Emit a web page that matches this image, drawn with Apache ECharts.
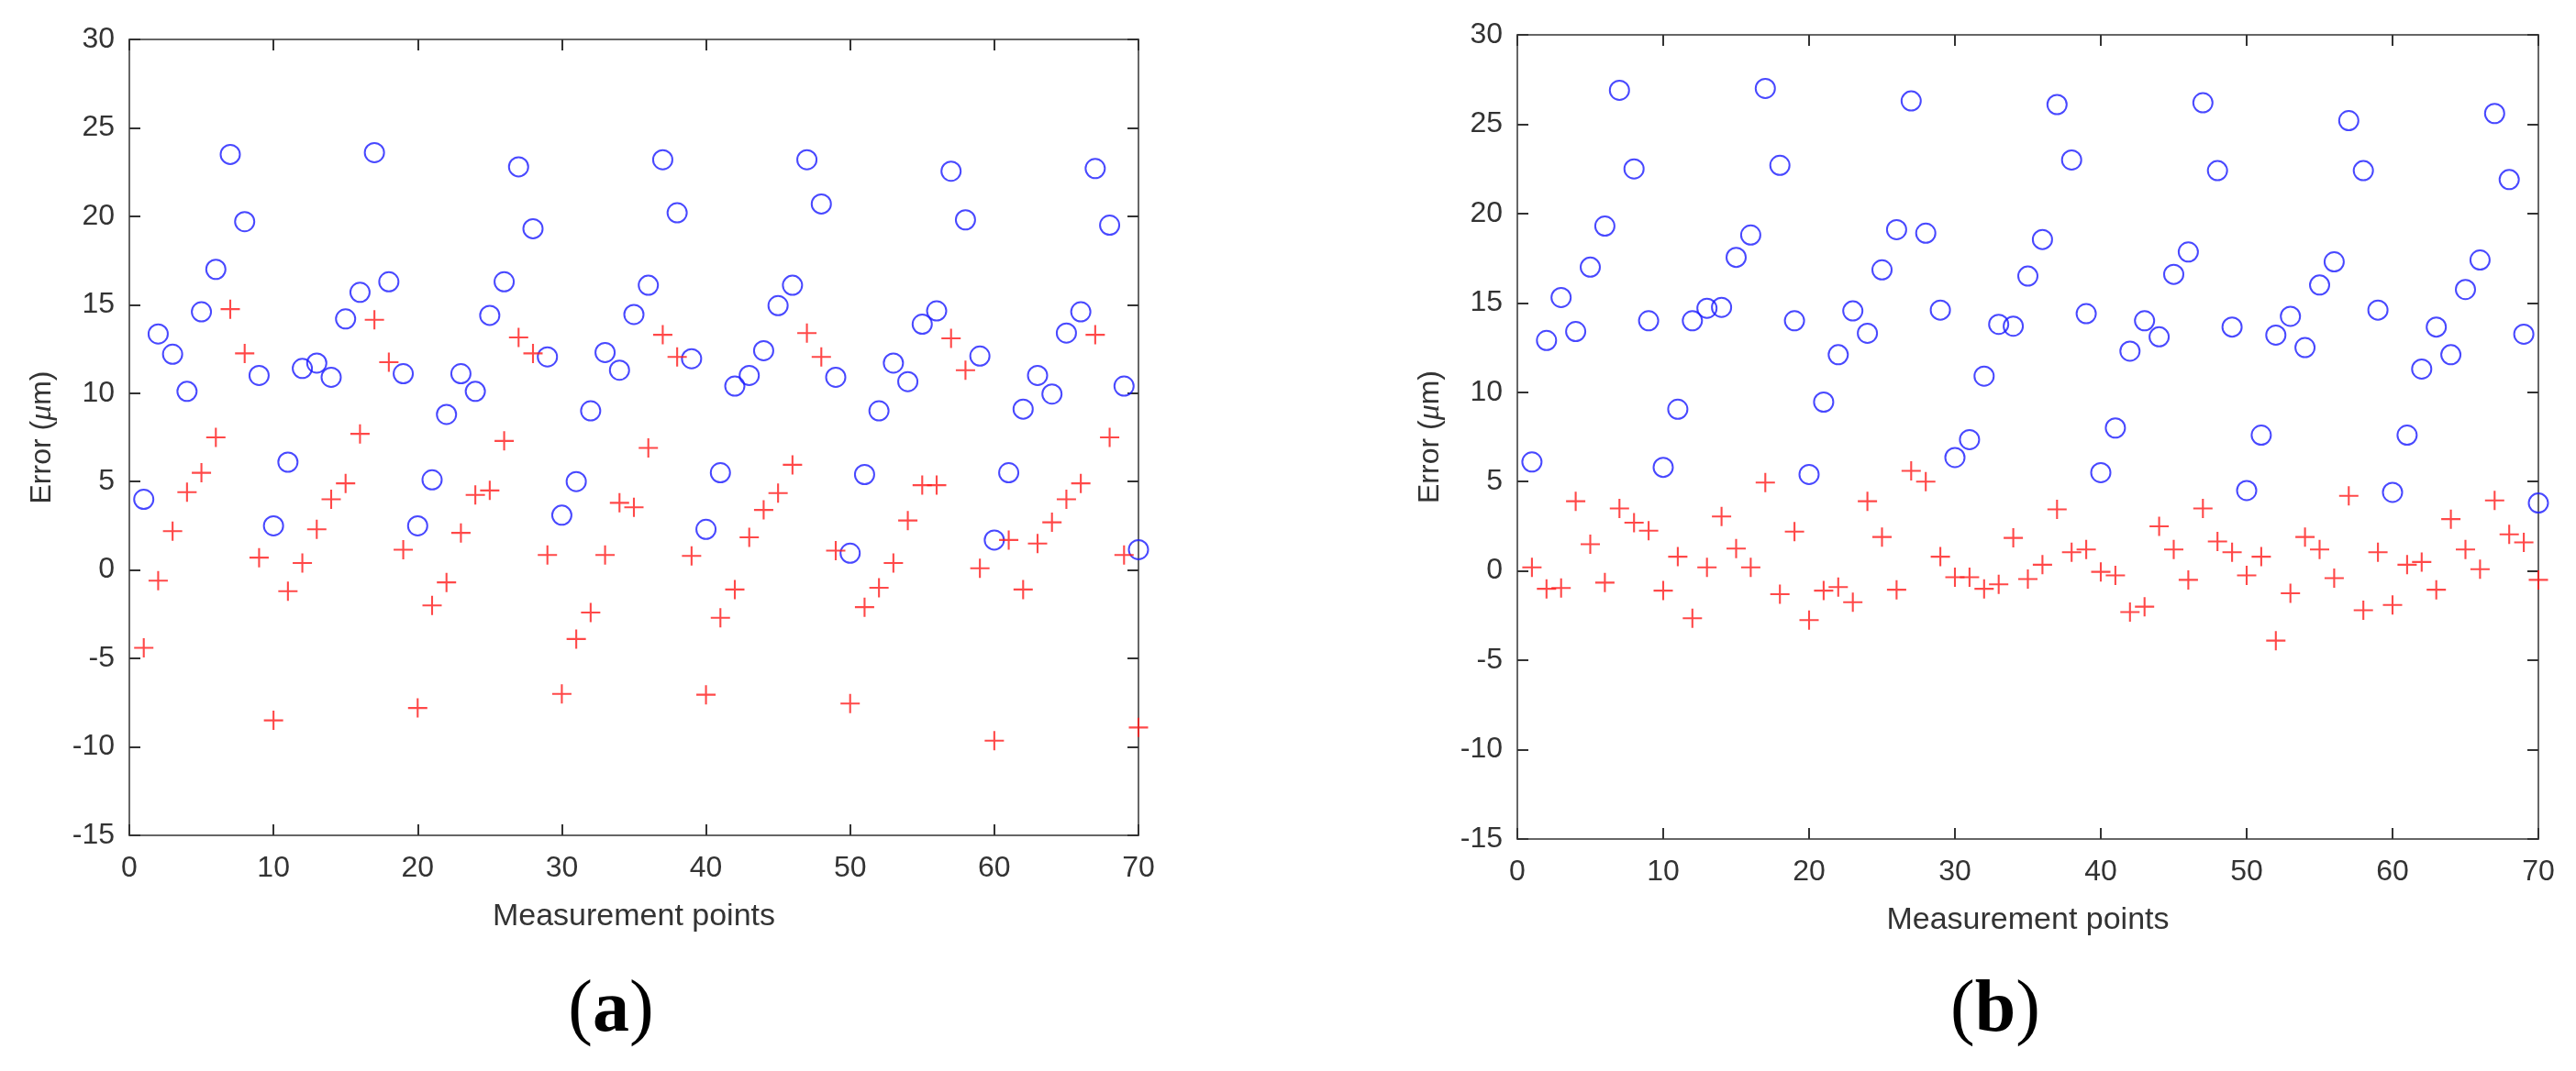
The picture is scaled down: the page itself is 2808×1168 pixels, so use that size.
<!DOCTYPE html>
<html>
<head>
<meta charset="utf-8">
<title>Error vs measurement points</title>
<script src="https://cdn.jsdelivr.net/npm/echarts@6/dist/echarts.min.js"></script>
<style>
  html, body { margin: 0; padding: 0; background: #fff; }
  #main { width: 2808px; height: 1168px; }
</style>
</head>
<body>
<div id="main"></div>
<script>
// values, points 1..70
var circlesA = [4.0, 13.35, 12.2, 10.1, 14.6, 17.0, 23.5, 19.7, 11.0, 2.5,
  6.1, 11.4, 11.7, 10.9, 14.2, 15.7, 23.6, 16.3, 11.1, 2.5,
  5.1, 8.8, 11.1, 10.1, 14.4, 16.3, 22.8, 19.3, 12.05, 3.1,
  5.0, 9.0, 12.3, 11.3, 14.45, 16.1, 23.2, 20.2, 11.95, 2.3,
  5.5, 10.4, 11.0, 12.4, 14.95, 16.1, 23.2, 20.7, 10.9, 0.95,
  5.4, 9.0, 11.7, 10.65, 13.9, 14.65, 22.55, 19.8, 12.1, 1.7,
  5.5, 9.1, 11.0, 9.95, 13.4, 14.6, 22.7, 19.5, 10.4, 1.15];

var crossesA = [-4.4, -0.6, 2.2, 4.4, 5.5, 7.5, 14.75, 12.25, 0.7, -8.5,
  -1.2, 0.4, 2.3, 4.0, 4.9, 7.7, 14.15, 11.75, 1.15, -7.8,
  -2.0, -0.7, 2.1, 4.25, 4.5, 7.3, 13.15, 12.25, 0.85, -7.0,
  -3.9, -2.4, 0.85, 3.8, 3.55, 6.9, 13.3, 12.05, 0.8, -7.05,
  -2.7, -1.1, 1.85, 3.4, 4.35, 5.95, 13.4, 12.05, 1.1, -7.55,
  -2.1, -1.0, 0.4, 2.8, 4.8, 4.8, 13.1, 11.3, 0.1, -9.65,
  1.7, -1.1, 1.5, 2.7, 4.0, 4.9, 13.3, 7.5, 0.85, -8.9];

var circlesB = [6.1, 12.9, 15.3, 13.4, 17.0, 19.3, 26.9, 22.5, 14.0, 5.8,
  9.05, 14.0, 14.7, 14.75, 17.55, 18.8, 27.0, 22.7, 14.0, 5.4,
  9.45, 12.1, 14.55, 13.3, 16.85, 19.1, 26.3, 18.9, 14.6, 6.35,
  7.35, 10.9, 13.8, 13.7, 16.5, 18.55, 26.1, 23.0, 14.4, 5.5,
  8.0, 12.3, 14.0, 13.1, 16.6, 17.85, 26.2, 22.4, 13.65, 4.5,
  7.6, 13.2, 14.25, 12.5, 16.0, 17.3, 25.2, 22.4, 14.6, 4.4,
  7.6, 11.3, 13.65, 12.1, 15.75, 17.4, 25.6, 21.9, 13.25, 3.8];

var crossesB = [0.2, -1.0, -0.95, 3.9, 1.5, -0.65, 3.5, 2.7, 2.25, -1.1,
  0.8, -2.65, 0.2, 3.05, 1.25, 0.2, 4.95, -1.3, 2.2, -2.75,
  -1.1, -0.9, -1.75, 3.9, 1.9, -1.05, 5.6, 5.0, 0.8, -0.35,
  -0.35, -1.0, -0.75, 1.85, -0.45, 0.35, 3.45, 1.05, 1.2, -0.05,
  -0.25, -2.3, -2.0, 2.5, 1.2, -0.5, 3.5, 1.65, 1.05, -0.25,
  0.8, -3.9, -1.25, 1.9, 1.2, -0.4, 4.2, -2.2, 1.05, -1.9,
  0.35, 0.5, -1.05, 2.9, 1.2, 0.1, 3.95, 2.05, 1.6, -0.5];

var xMin = 0, xMax = 70, xStep = 10;
var yMin = -15, yMax = 30, yStep = 5;
var panelLabels = ['a', 'b'];

var myChart = echarts.init(document.getElementById('main'), null, { renderer: 'canvas' });

var axisColor = '#666';
var textColor = '#333';
var plusPath = 'path://M0,9 L20,9 L20,11 L0,11 Z M9,0 L11,0 L11,20 L9,20 Z';

function toPairs(arr) {
  return arr.map(function (v, i) { return [i + 1, v]; });
}

// one panel = bottom/top x axes + left/right y axes (MATLAB box)
function xAxes(gridIndex, showLabels) {
  return {
    type: 'value', gridIndex: gridIndex, min: xMin, max: xMax, interval: xStep,
    position: showLabels ? 'bottom' : 'top',
    name: showLabels ? 'Measurement points' : '',
    nameLocation: 'middle', nameGap: 72,
    nameTextStyle: { fontFamily: 'Liberation Sans', fontSize: 34, color: textColor },
    axisLine: { onZero: false, lineStyle: { color: axisColor, width: 2 } },
    axisTick: { inside: true, length: 12, lineStyle: { color: textColor, width: 2 } },
    axisLabel: { show: showLabels, margin: 20, fontFamily: 'Liberation Sans', fontSize: 32, color: textColor },
    splitLine: { show: false }
  };
}
function yAxes(gridIndex, showLabels) {
  return {
    type: 'value', gridIndex: gridIndex, min: yMin, max: yMax, interval: yStep,
    position: showLabels ? 'left' : 'right',
    name: showLabels ? '{n|Error (}{i|μ}{n|m)}' : '',
    nameLocation: 'middle', nameGap: 78,
    nameTextStyle: {
      color: textColor,
      rich: {
        n: { fontFamily: 'Liberation Sans', fontSize: 32, color: textColor },
        i: { fontFamily: 'Liberation Serif', fontStyle: 'italic', fontSize: 34, color: textColor }
      }
    },
    axisLine: { onZero: false, lineStyle: { color: axisColor, width: 2 } },
    axisTick: { inside: true, length: 12, lineStyle: { color: textColor, width: 2 } },
    axisLabel: { show: showLabels, margin: 16, fontFamily: 'Liberation Sans', fontSize: 32, color: textColor },
    splitLine: { show: false }
  };
}

var circleStyle = { color: 'rgba(0,0,0,0)', borderColor: '#1a1aff', borderWidth: 2 };
var crossStyle = { color: '#ff1a1a' };

var option = {
  backgroundColor: '#fff',
  animation: false,
  grid: [
    { left: 141, top: 43, width: 1100, height: 868 },
    { left: 1654, top: 38, width: 1113, height: 877 }
  ],
  xAxis: [xAxes(0, true), xAxes(0, false), xAxes(1, true), xAxes(1, false)],
  yAxis: [yAxes(0, true), yAxes(0, false), yAxes(1, true), yAxes(1, false)],
  series: [
    {
      type: 'scatter', xAxisIndex: 0, yAxisIndex: 0, data: toPairs(circlesA),
      symbol: 'circle', symbolSize: 21, clip: false, itemStyle: circleStyle
    },
    {
      type: 'scatter', xAxisIndex: 0, yAxisIndex: 0, data: toPairs(crossesA),
      symbol: plusPath, symbolSize: 21, clip: false, itemStyle: crossStyle
    },
    {
      type: 'scatter', xAxisIndex: 2, yAxisIndex: 2, data: toPairs(circlesB),
      symbol: 'circle', symbolSize: 21, clip: false, itemStyle: circleStyle
    },
    {
      type: 'scatter', xAxisIndex: 2, yAxisIndex: 2, data: toPairs(crossesB),
      symbol: plusPath, symbolSize: 21, clip: false, itemStyle: crossStyle
    }
  ],
  graphic: [
    {
      type: 'text', x: 666, y: 1103,
      style: {
        text: '{p|(}{b|' + panelLabels[0] + '}{p|)}',
        textAlign: 'center', textVerticalAlign: 'middle',
        rich: {
          p: { fontFamily: 'Liberation Serif', fontSize: 80, color: '#000' },
          b: { fontFamily: 'Liberation Serif', fontWeight: 'bold', fontSize: 80, color: '#000' }
        }
      }
    },
    {
      type: 'text', x: 2175, y: 1103,
      style: {
        text: '{p|(}{b|' + panelLabels[1] + '}{p|)}',
        textAlign: 'center', textVerticalAlign: 'middle',
        rich: {
          p: { fontFamily: 'Liberation Serif', fontSize: 80, color: '#000' },
          b: { fontFamily: 'Liberation Serif', fontWeight: 'bold', fontSize: 80, color: '#000' }
        }
      }
    }
  ]
};

myChart.setOption(option);
</script>
</body>
</html>
